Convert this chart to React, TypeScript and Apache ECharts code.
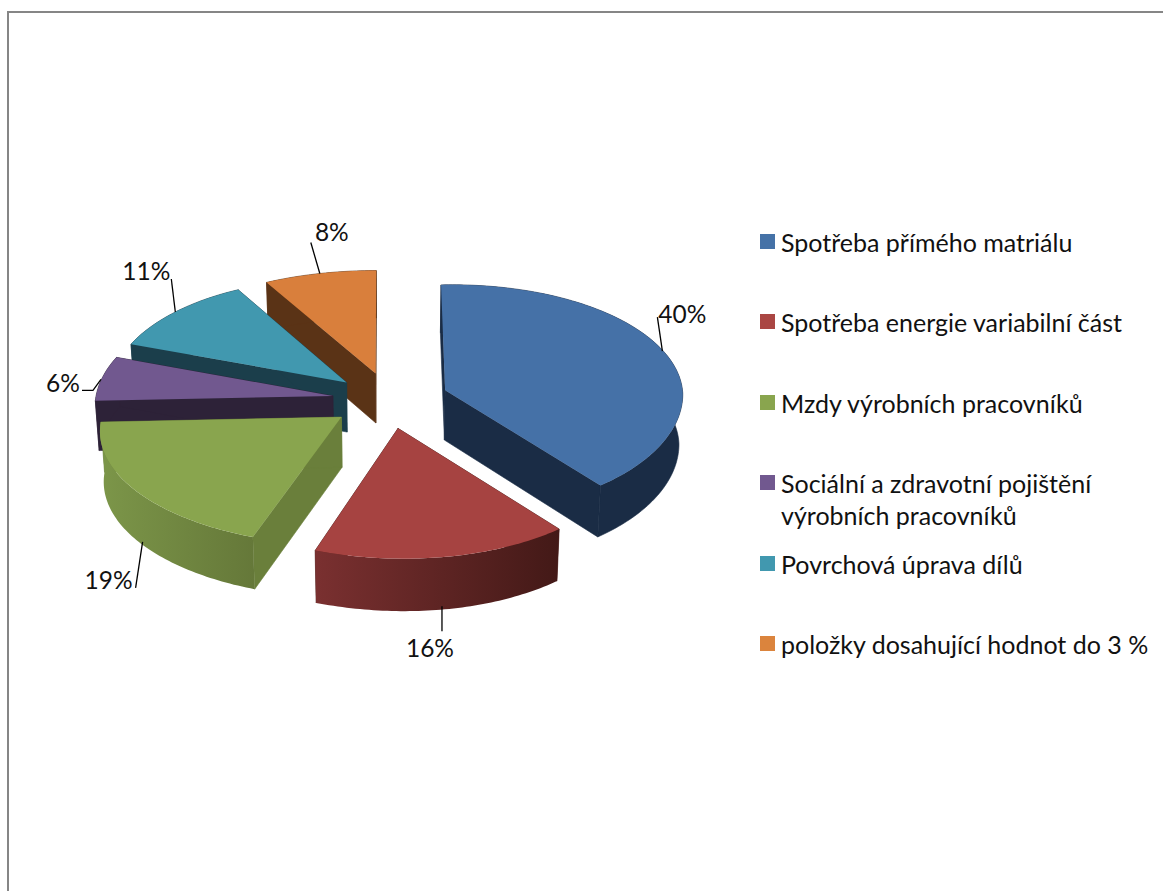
import React, { useEffect, useRef } from "react";
import * as echarts from "echarts";

// Cost structure, share of each item in percent
const categories = [
  "Spotřeba přímého matriálu",
  "Spotřeba energie variabilní část",
  "Mzdy výrobních pracovníků",
  "Sociální a zdravotní pojištění výrobních pracovníků",
  "Povrchová úprava dílů",
  "položky dosahující hodnot do 3 %",
];
const shares = [40, 16, 19, 6, 11, 8];

const topColors = ["#4571A7", "#A64341", "#89A54E", "#71588F", "#4198AF", "#D97F3C"];
const legendColors = ["#4572A7", "#AA4643", "#89A54E", "#71588F", "#4198AF", "#DB843D"];
const sideColors = ["#1A2C45", "#4A1B18", "#6A7F3B", "#2D2238", "#1B3E4B", "#5A3316"];
const rimStops = [
  ["#1A2C45", "#1A2C45"],
  ["#7A3030", "#431917"],
  ["#7C9649", "#657839"],
  ["#2D2238", "#2D2238"],
  ["#1B3E4B", "#1B3E4B"],
  ["#5A3316", "#5A3316"],
];
// Leader line: start nudge along the rim, vector from the start, label offset from its end
const anchorNudges = [[-1, 0], [-3, -3], [4, 0], [-1, 1], [0, 0], [0, 0]];
const leaderVectors = [[-5, -34], [0, 25], [-7, 46], [-19, 11], [-4, -33], [-9, -31]];
const labelOffsets = [[25, -4], [-12, 16], [-27, -8], [-19, -8], [-25, -8], [21, -11]];
const legendCentres = [241.5, 321.5, 402.5, 482.5, 563.5, 643.5];

const FONT = "Lato, 'Noto Sans', sans-serif";
const LABEL_SIZE = 24.5;
const LEGEND_SIZE = 25;

// Projection of the pie plane: tilt, perspective, extrusion and explosion
const CX = 390;
const CY = 400;
const RX = 238;
const RY = 115;
const PERSPECTIVE = 0.08;
const DEPTH = 50;
const EXPLODE = 0.245;
const BASE_SHRINK = 0.987;
// Camera yaw and roll of the view
const ROLL = 5;
const FRONT_YAW = 10;
const FRONT_RIGHT_YAW = 4;
const BACK_YAW = 8;

type Pt = [number, number];

function project(X: number, Z: number, base: boolean): Pt {
  const d = 1 - PERSPECTIVE * Z;
  let x = CX + (RX * X) / d;
  const roll = X < 0 && Z < 0 ? ROLL * X * Math.max(0, 1 + Z) : ROLL * X;
  let y = CY + (RY * Z) / d - roll;
  if (Z > 0) x += FRONT_YAW * Z * Z;
  if (Z > 0 && X > 0) x -= FRONT_RIGHT_YAW * X * Z;
  if (Z < 0 && X < 0) x -= BACK_YAW * X * Z;
  if (base) {
    x = CX + (x - CX) * BASE_SHRINK;
    y += DEPTH * (1 + 0.04 * Z);
  }
  return [x, y];
}

function rimPoint(mid: number, theta: number, base: boolean): Pt {
  const ex = EXPLODE * Math.sin(mid);
  const ez = -EXPLODE * Math.cos(mid);
  return project(ex + Math.sin(theta), ez - Math.cos(theta), base);
}

function apexPoint(mid: number, base: boolean): Pt {
  return project(EXPLODE * Math.sin(mid), -EXPLODE * Math.cos(mid), base);
}

function sliceRenderer(index: number) {
  const total = shares.reduce((a, b) => a + b, 0);
  const before = shares.slice(0, index).reduce((a, b) => a + b, 0);
  return (_params: unknown, api: any) => {
    const value = api.value(0) as number;
    const a0 = (before / total) * Math.PI * 2;
    const a1 = ((before + value) / total) * Math.PI * 2;
    const mid = (a0 + a1) / 2;
    const steps = Math.max(8, Math.round(((a1 - a0) * 180) / Math.PI));
    const thetas: number[] = [];
    for (let s = 0; s <= steps; s++) thetas.push(a0 + ((a1 - a0) * s) / steps);

    const topArc = thetas.map((t) => rimPoint(mid, t, false));
    const baseArc = thetas.map((t) => rimPoint(mid, t, true));
    const apexTop = apexPoint(mid, false);
    const apexBase = apexPoint(mid, true);
    const side = sideColors[index];
    const flatRim = rimStops[index][0] === rimStops[index][1];
    const poly = (points: Pt[], fill: unknown, stroke: string | null) => ({
      type: "polygon",
      shape: { points },
      style: { fill, stroke, lineWidth: stroke ? 0.6 : 0 },
      silent: true,
    });

    const facing = -Math.cos(mid);
    const rim = rimPoint(mid, mid, facing > 0);
    const anchor: Pt = [rim[0] + anchorNudges[index][0], rim[1] + anchorNudges[index][1]];
    const [vx, vy] = leaderVectors[index];
    const end: Pt = [anchor[0] + vx, anchor[1] + vy];
    const [ox, oy] = labelOffsets[index];
    const leaderPoints: Pt[] = index === 3 ? [anchor, [anchor[0] - 8, anchor[1] + 11], end] : [anchor, end];

    return {
      type: "group",
      children: [
        poly([apexTop, topArc[0], baseArc[0], apexBase], side, side),
        poly([apexTop, topArc[steps], baseArc[steps], apexBase], side, side),
        poly(
          [...topArc, ...baseArc.slice().reverse()],
          new echarts.graphic.LinearGradient(0, 0, 1, 0, [
            { offset: 0, color: rimStops[index][0] },
            { offset: 1, color: rimStops[index][1] },
          ]),
          flatRim ? side : null,
        ),
        poly([apexTop, ...topArc], topColors[index], null),
        {
          type: "polyline",
          shape: { points: leaderPoints },
          style: { stroke: "#000000", lineWidth: 1.3, fill: null },
          silent: true,
        },
        {
          type: "text",
          x: end[0] + ox,
          y: end[1] + oy,
          style: {
            text: `${value}%`,
            font: `${LABEL_SIZE}px ${FONT}`,
            fill: "#111111",
            align: "center",
            verticalAlign: "middle",
          },
          silent: true,
        },
      ],
    };
  };
}

function buildOption() {
  // Painted back to front so nearer slices cover the walls of farther ones
  const paintOrder = [5, 4, 3, 2, 1, 0];
  return {
    animation: false,
    backgroundColor: "#FFFFFF",
    graphic: [
      { type: "rect", shape: { x: 7, y: 11, width: 2, height: 880 }, style: { fill: "#868686" }, silent: true },
      { type: "rect", shape: { x: 7, y: 11, width: 1156, height: 2 }, style: { fill: "#868686" }, silent: true },
    ],
    legend: categories.map((name, i) => {
      const wrapped = i === 3;
      return {
        data: [name],
        left: 760,
        top: legendCentres[i] - (wrapped ? 50.5 : 18.5),
        padding: 0,
        itemWidth: 15,
        itemHeight: 15,
        icon: "rect",
        selectedMode: false,
        itemStyle: { color: legendColors[i], borderWidth: 0 },
        formatter: wrapped ? "\nSociální a zdravotní pojištění\nvýrobních pracovníků" : "{name}",
        textStyle: {
          fontFamily: FONT,
          fontSize: LEGEND_SIZE,
          lineHeight: 32,
          color: "#111111",
          padding: [0, 0, 5, 1],
        },
      };
    }),
    series: paintOrder.map((i) => ({
      type: "custom",
      name: categories[i],
      coordinateSystem: "none",
      silent: true,
      itemStyle: { color: legendColors[i] },
      data: [[shares[i]]],
      renderItem: sliceRenderer(i),
    })),
  };
}

export default function App() {
  const ref = useRef<HTMLDivElement>(null);
  useEffect(() => {
    const chart = echarts.init(ref.current as HTMLDivElement, undefined, { renderer: "svg" });
    chart.setOption(buildOption() as any);
    return () => chart.dispose();
  }, []);
  return <div ref={ref} style={{ position: "fixed", left: 0, top: 0, width: 1163, height: 891 }} />;
}
